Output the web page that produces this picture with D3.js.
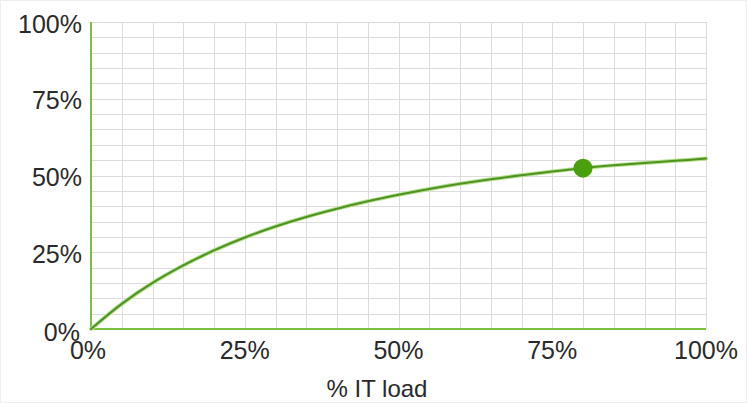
<!DOCTYPE html>
<html>
<head>
<meta charset="utf-8">
<script src="https://cdn.jsdelivr.net/npm/d3@7"></script>
<style>
html,body{margin:0;padding:0;background:#fff;}
svg{display:block;}
text{font-family:"Liberation Sans",Arial,Helvetica,sans-serif;fill:#2a2a2a;}
</style>
</head>
<body>
<svg id="chart" width="747" height="403"></svg>
<script>
// Data (fractions of 1)
const loadPct = [0, 0.05, 0.10, 0.15, 0.20, 0.25, 0.30, 0.35, 0.40, 0.45, 0.50, 0.55, 0.60, 0.65, 0.70, 0.75, 0.80, 0.85, 0.90, 0.95, 1.00];
const efficiency = [0, 0.082, 0.150, 0.207, 0.256, 0.298, 0.334, 0.365, 0.392, 0.416, 0.437, 0.456, 0.473, 0.488, 0.501, 0.513, 0.524, 0.533, 0.541, 0.548, 0.555];
const markerLoad = [0.80];
const markerEff = [0.524];
const tickValues = [0, 0.25, 0.5, 0.75, 1];
const tickLabels = ["0%", "25%", "50%", "75%", "100%"];
const xTitle = "% IT load";

const svg = d3.select("#chart");
const W = 747, H = 403;

svg.append("rect").attr("x",0.5).attr("y",0.5).attr("width",W-1).attr("height",H-1)
  .attr("fill","#fff").attr("stroke","#eeeeee");

const x = d3.scaleLinear().domain([0,1]).range([91, 706]);
const y = d3.scaleLinear().domain([0,1]).range([329, 22]);

// grid (5% steps)
const gridVals = d3.range(0, 21).map(i => i / 20);
const g = svg.append("g");
g.selectAll(".vg").data(gridVals).join("line")
  .attr("x1", d => Math.round(x(d)) + 0.5).attr("x2", d => Math.round(x(d)) + 0.5)
  .attr("y1", y(0)).attr("y2", y(1))
  .attr("stroke", "#dcdcdc").attr("stroke-width", 1);
g.selectAll(".hg").data(gridVals).join("line")
  .attr("y1", d => Math.round(y(d)) + 0.5).attr("y2", d => Math.round(y(d)) + 0.5)
  .attr("x1", x(0)).attr("x2", x(1))
  .attr("stroke", "#dcdcdc").attr("stroke-width", 1);

// axes lines (green)
svg.append("line").attr("x1", x(0)).attr("x2", x(0)).attr("y1", y(0)).attr("y2", y(1))
  .attr("stroke", "#7cbf45").attr("stroke-width", 2);
svg.append("line").attr("x1", x(0)).attr("x2", x(1)).attr("y1", y(0)).attr("y2", y(0))
  .attr("stroke", "#7cbf45").attr("stroke-width", 2);

// tick labels
const fs = 25;
svg.append("g").selectAll("text").data(tickValues).join("text")
  .attr("x", (d, i) => i === 0 ? 80 : 82).attr("y", (d, i) => y(d) + (i === 0 ? 12 : 10.5))
  .attr("text-anchor", "end")
  .attr("font-size", fs)
  .text((d, i) => tickLabels[i]);
svg.append("g").selectAll("text").data(tickValues).join("text")
  .attr("x", (d, i) => x(d) - (i === 0 ? 3 : 0)).attr("y", 359)
  .attr("text-anchor", "middle")
  .attr("font-size", fs)
  .text((d, i) => tickLabels[i]);

svg.append("text").attr("x", 377).attr("y", 397)
  .attr("text-anchor", "middle").attr("font-size", 24)
  .text(xTitle);

// curve
const data = loadPct.map((d, i) => ({x: d, y: efficiency[i]}));
const line = d3.line().x(d => x(d.x)).y(d => y(d.y)).curve(d3.curveCatmullRom.alpha(0.5));
svg.append("path").datum(data).attr("d", line)
  .attr("fill", "none").attr("stroke", "#b5e08a").attr("stroke-width", 4).attr("stroke-linecap","round");
svg.append("path").datum(data).attr("d", line)
  .attr("fill", "none").attr("stroke", "#4f9222").attr("stroke-width", 2).attr("stroke-linecap","round");

// marker
svg.append("g").selectAll("circle").data(markerLoad).join("circle")
  .attr("cx", d => x(d)).attr("cy", (d, i) => y(markerEff[i]))
  .attr("r", 9.5).attr("fill", "#4aa00c");
</script>
</body>
</html>
